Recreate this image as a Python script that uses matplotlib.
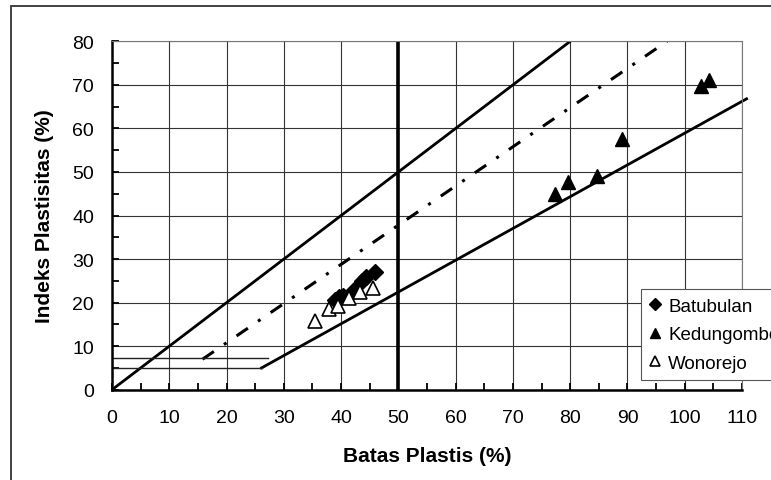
import matplotlib.pyplot as plt
from matplotlib.patches import Rectangle
from matplotlib.ticker import MultipleLocator

plt.rcParams['font.family'] = ['Liberation Sans', 'DejaVu Sans']

# data (Batas Plastis %, Indeks Plastisitas %)
batubulan_x = [39.0, 39.7, 40.3, 42.3, 43.6, 44.3, 46.0]
batubulan_y = [20.5, 21.2, 21.6, 23.0, 25.0, 25.8, 27.0]

kedungombo_x = [77.4, 79.7, 84.6, 89.0, 102.8, 104.2]
kedungombo_y = [44.9, 47.8, 49.1, 57.6, 69.7, 71.1]

wonorejo_x = [35.4, 37.9, 39.5, 41.3, 43.3, 45.6]
wonorejo_y = [15.8, 18.5, 19.2, 21.0, 22.5, 23.3]

# reference lines
upper_x, upper_y = [0, 80], [0, 80]
uline_x, uline_y = [15.8, 96.9], [7, 80]
aline_x, aline_y = [26.1, 110.8], [5, 66.8]
mid_x, mid_y = [50, 50], [0, 80]
h7_x, h7_y = [0, 27.3], [7.2, 7.2]
h5_x, h5_y = [0, 26.1], [5, 5]

fig = plt.figure(figsize=(7.71, 4.81), dpi=100)
ax = fig.add_axes([0.1453, 0.1877, 0.8171, 0.7243])

# outer frame (cut off at right and bottom)
fig.patches.append(Rectangle((11 / 771, -0.1), 1.2, 1 - 7 / 481 + 0.1,
                             transform=fig.transFigure, fill=False,
                             edgecolor='#333333', linewidth=1.3))

ax.set_xlim(0, 110)
ax.set_ylim(0, 80)
ax.xaxis.set_major_locator(MultipleLocator(10))
ax.xaxis.set_minor_locator(MultipleLocator(5))
ax.yaxis.set_major_locator(MultipleLocator(10))
ax.yaxis.set_minor_locator(MultipleLocator(5))
ax.grid(True, which='major', color='#333333', linewidth=0.8)
ax.set_axisbelow(True)
ax.tick_params(which='both', direction='in', length=5, width=1.3,
               top=False, right=False)
ax.tick_params(axis='x', which='major', pad=14, labelsize=14)
ax.tick_params(axis='y', which='major', pad=13, labelsize=14)
for s in ['left', 'bottom']:
    ax.spines[s].set_linewidth(1.8)
for s in ['top', 'right']:
    ax.spines[s].set_color('#777777')
    ax.spines[s].set_linewidth(0.8)

ax.plot(upper_x, upper_y, color='black', lw=2)
ax.plot(uline_x, uline_y, color='black', lw=2.2, linestyle=(0, (4.5, 4, 1, 4)))
ax.plot(aline_x, aline_y, color='black', lw=2, clip_on=False)
ax.plot(mid_x, mid_y, color='black', lw=2.6)
ax.plot(h7_x, h7_y, color='#222222', lw=1)
ax.plot(h5_x, h5_y, color='#222222', lw=1)

ax.plot(batubulan_x, batubulan_y, 'D', color='black', ms=8, ls='none',
        label='Batubulan', zorder=5)
ax.plot(kedungombo_x, kedungombo_y, '^', color='black', ms=10.5, ls='none',
        label='Kedungombo', zorder=5)
ax.plot(wonorejo_x, wonorejo_y, '^', color='black', mfc='white', mew=1.2,
        ms=10, ls='none', label='Wonorejo', zorder=5)

ax.set_xlabel('Batas Plastis (%)', fontsize=15, fontweight='bold', labelpad=14)
ax.set_ylabel('Indeks Plastisitas (%)', fontsize=15, fontweight='bold', labelpad=13)

leg = ax.legend(loc='lower left', bbox_to_anchor=(0.84, 0.028), fontsize=13.5,
                markerscale=0.75, frameon=True, fancybox=False, framealpha=1,
                edgecolor='#555555', handlelength=0.6, handletextpad=0.4,
                borderpad=0.45, labelspacing=0.6, borderaxespad=0)
leg.get_frame().set_linewidth(0.8)

fig.savefig('out.png', dpi=100)
